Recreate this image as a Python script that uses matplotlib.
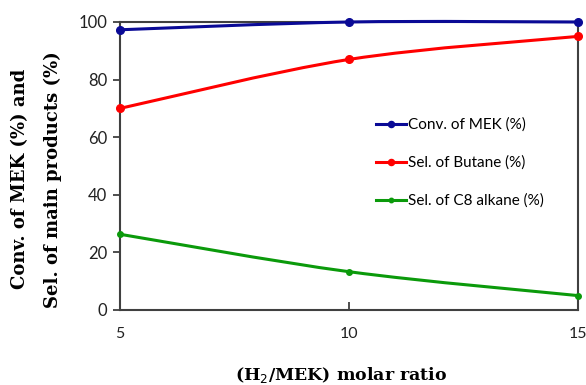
import numpy as np
import matplotlib
matplotlib.use("Agg")
import matplotlib.pyplot as plt
from matplotlib.path import Path
from matplotlib.patches import PathPatch
from matplotlib.lines import Line2D

ratio = [5, 10, 15]
conv_mek = [97.3, 100.0, 100.0]
sel_butane = [70.0, 87.0, 95.0]
sel_c8 = [26.3, 13.3, 5.0]
labels = ["Conv. of MEK (%)", "Sel. of Butane (%)", "Sel. of C8 alkane (%)"]
colors = ["#0a0a96", "#ff0000", "#0b9a0b"]
yticks = [0, 20, 40, 60, 80, 100]
xticks = [5, 10, 15]

fig = plt.figure(figsize=(5.86, 3.85), dpi=100)
ax = fig.add_axes([120/586, 75/385, 458/586, 288/385])

def smooth_path(x, y, t=0.5/3):
    # Excel-like smoothed line: cubic Bezier through points (Catmull-Rom)
    x = np.asarray(x, float); y = np.asarray(y, float)
    verts = [(x[0], y[0])]
    codes = [Path.MOVETO]
    n = len(x)
    for i in range(n - 1):
        p0 = (x[i-1], y[i-1]) if i > 0 else (x[i], y[i])
        p1 = (x[i], y[i]); p2 = (x[i+1], y[i+1])
        p3 = (x[i+2], y[i+2]) if i + 2 < n else (x[i+1], y[i+1])
        c1 = (p1[0] + (p2[0]-p0[0])*t, p1[1] + (p2[1]-p0[1])*t)
        c2 = (p2[0] - (p3[0]-p1[0])*t, p2[1] - (p3[1]-p1[1])*t)
        verts += [c1, c2, p2]
        codes += [Path.CURVE4]*3
    return Path(verts, codes)

series = [conv_mek, sel_butane, sel_c8]
msizes = [5.5, 5.5, 4]
for s, c, lab, ms in zip(series, colors, labels, msizes):
    ax.add_patch(PathPatch(smooth_path(ratio, s), facecolor="none", edgecolor=c, lw=2.2, zorder=3, clip_on=False))
    ax.plot(ratio, s, ls="none", marker="o", ms=ms, color=c, zorder=4, clip_on=False)

ax.set_xlim(5, 15)
ax.set_ylim(0, 100)
ax.set_xticks([10])
ax.set_xticklabels([])
ax.set_yticks(yticks)
for sp in ax.spines.values():
    sp.set_color("#404040"); sp.set_linewidth(1.5)
ax.tick_params(axis="x", direction="in", length=6, width=1.3, color="#404040")
ax.tick_params(axis="y", direction="out", length=5, width=1.3, color="#404040", pad=4)
for lbl in ax.get_yticklabels():
    lbl.set_fontfamily("Lato"); lbl.set_fontsize(12); lbl.set_color("#222222")
for xv in xticks:
    ax.text(xv, -6.0, str(xv), transform=ax.transData, ha="center", va="top",
            fontfamily="Lato", fontsize=11.5, color="#222222")

handles = [Line2D([], [], color=c, lw=2.2, marker="o", ms=ms*0.8) for c, ms in zip(colors, msizes)]
ax.legend(handles, labels, loc="upper left", bbox_to_anchor=(0.528, 0.716), frameon=False,
          prop={"family": "Lato", "size": 11}, handlelength=2.0, handletextpad=0.15, labelspacing=1.55)

fig.text(20/586, 1 - 179/385, "Conv. of MEK (%) and", rotation=90, ha="center", va="center",
         fontfamily="DejaVu Serif", fontweight="bold", fontsize=13)
fig.text(53/586, 1 - 180/385, "Sel. of main products (%)", rotation=90, ha="center", va="center",
         fontfamily="DejaVu Serif", fontweight="bold", fontsize=13)
fig.text(341/586, 1 - 375/385, "(H$_2$/MEK) molar ratio", ha="center", va="center",
         fontfamily="DejaVu Serif", fontweight="bold", fontsize=12.5)

fig.savefig("out.png", dpi=100)
